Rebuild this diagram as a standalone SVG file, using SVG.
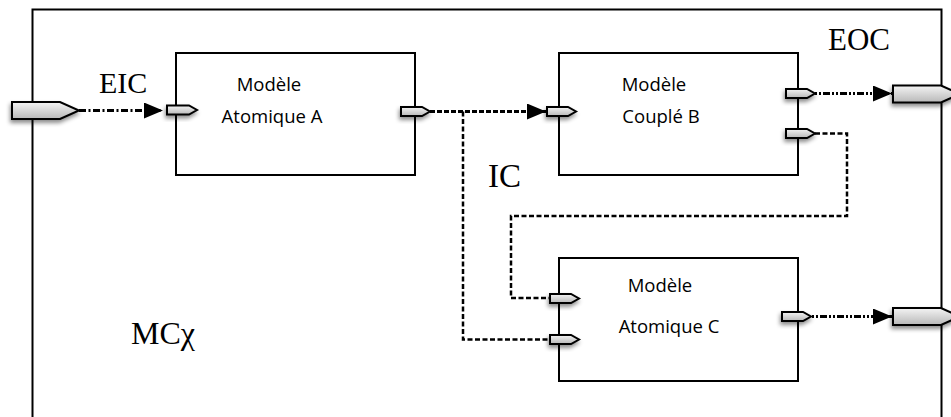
<svg xmlns="http://www.w3.org/2000/svg" width="951" height="417" viewBox="0 0 951 417">
<style>
.frame{fill:none;stroke:#000;stroke-width:2}
.box{fill:#fff;stroke:#000;stroke-width:2}
.port{fill:url(#pg);stroke:#000;stroke-width:2;filter:url(#sh)}
.lbl{font-family:"Liberation Serif","Times New Roman",serif;fill:#000}
.txt{font-family:"Open Sans","Liberation Sans",Arial,sans-serif;font-size:18.5px;fill:#000;text-anchor:middle}
.dd{fill:none;stroke:#000;stroke-width:3}
.ic{fill:none;stroke:#000;stroke-width:2.5;stroke-dasharray:5 2.5}
</style>
<defs>
<linearGradient id="pg" x1="0" y1="0" x2="0" y2="1">
<stop offset="0" stop-color="#f4f4f4"/>
<stop offset="1" stop-color="#b8b8b8"/>
</linearGradient>
<filter id="sh" x="-30%" y="-60%" width="160%" height="240%">
<feDropShadow dx="-1" dy="3" stdDeviation="2" flood-color="#000" flood-opacity="0.45"/>
</filter>
<marker id="ah" markerUnits="userSpaceOnUse" markerWidth="22" markerHeight="18" refX="19" refY="8" orient="auto">
<path d="M0,0 L19,8 L0,16 z" fill="#000"/>
</marker>
</defs>

<path class="frame" d="M32.5,425 V9.5 H941.5 V425"/>

<g id="labels">
<text class="lbl" x="99" y="93" font-size="30">EIC</text>
<text class="lbl" x="828" y="50" font-size="31">EOC</text>
<text class="lbl" x="488" y="187" font-size="33">IC</text>
<text class="lbl" x="131" y="344" font-size="32">MCχ</text>
</g>

<g id="nodeA">
<rect class="box" x="176" y="53" width="239" height="122"/>
<text class="txt" x="269" y="91">Modèle</text>
<text class="txt" x="272" y="123">Atomique A</text>
</g>
<g id="nodeB">
<rect class="box" x="559" y="53" width="239" height="122"/>
<text class="txt" x="654" y="91">Modèle</text>
<text class="txt" x="661" y="123">Couplé B</text>
</g>
<g id="nodeC">
<rect class="box" x="559" y="258" width="239" height="123"/>
<text class="txt" x="660" y="292">Modèle</text>
<text class="txt" x="669" y="333">Atomique C</text>
</g>

<g id="connectors">
<path class="dd" style="stroke-dasharray:7 2.5 2 2.5" d="M79,110.5 H163" marker-end="url(#ah)"/>
<path class="dd" style="stroke-dasharray:5 2" d="M430,111.5 H546" marker-end="url(#ah)"/>
<path class="ic" d="M463,111.5 V339.5 H550"/>
<path class="ic" d="M815,133.5 H847 V216 H511 V298 H550"/>
<path class="dd" style="stroke-dasharray:2 2 2 2 7 2" d="M815,93.5 H892" marker-end="url(#ah)"/>
<path class="dd" style="stroke-dasharray:2 2 2 2 7 2" d="M812,316.5 H892" marker-end="url(#ah)"/>
</g>

<g id="ports">
<path class="port" d="M12,102 h48 l19,8.5 l-19,8.5 h-48 z"/>
<path class="port" d="M167,105.5 h22 l8,4.5 l-8,4.5 h-22 z"/>
<path class="port" d="M401,107 h21 l8,4.5 l-8,4.5 h-21 z"/>
<path class="port" d="M547,107 h21 l8,4.5 l-8,4.5 h-21 z"/>
<path class="port" d="M786,89 h21 l8,4.5 l-8,4.5 h-21 z"/>
<path class="port" d="M786,129 h21 l8,4.5 l-8,4.5 h-21 z"/>
<path class="port" d="M550,294 h21 l8,4.5 l-8,4.5 h-21 z"/>
<path class="port" d="M550,335 h21 l8,4.5 l-8,4.5 h-21 z"/>
<path class="port" d="M782,312 h21 l8,4.5 l-8,4.5 h-21 z"/>
<path class="port" d="M893,85.5 h48 l19,8.5 l-19,8.5 h-48 z"/>
<path class="port" d="M893,308 h48 l19,8.5 l-19,8.5 h-48 z"/>
</g>
</svg>
